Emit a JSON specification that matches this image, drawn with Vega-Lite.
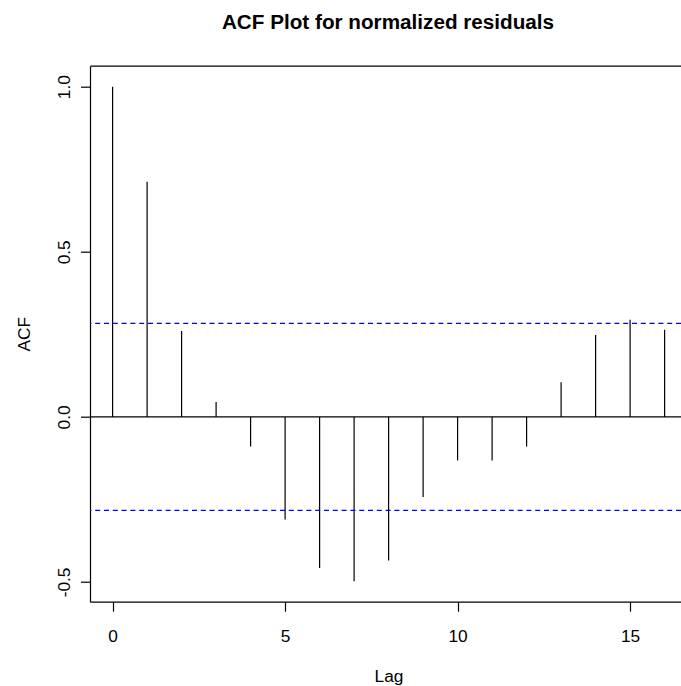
{
  "$schema": "https://vega.github.io/schema/vega-lite/v6.json",
  "width": 591,
  "height": 536,
  "autosize": {"type": "none"},
  "padding": {"left": 90, "top": 65.7, "right": 0, "bottom": 84},
  "background": "white",
  "config": {
    "view": {"stroke": null},
    "font": "Liberation Sans",
    "axis": {"grid": false, "labelFont": "Liberation Sans", "titleFont": "Liberation Sans", "labelColor": "black", "titleColor": "black", "tickColor": "black", "domainColor": "black", "tickWidth": 1.2, "domainWidth": 1.2, "labelFontSize": 17.3, "titleFontSize": 17.3, "titleFontWeight": "normal", "labelFlush": false, "labelOverlap": false}
  },
  "title": {"text": "ACF Plot for normalized residuals", "font": "Liberation Sans", "fontSize": 20.7, "fontWeight": "bold", "color": "black", "anchor": "middle", "baseline": "alphabetic", "offset": 16, "dx": 2.5},
  "datasets": {
    "acf": [
      {"lag": 0, "acf": 1.0},
      {"lag": 1, "acf": 0.712},
      {"lag": 2, "acf": 0.26},
      {"lag": 3, "acf": 0.045},
      {"lag": 4, "acf": -0.09},
      {"lag": 5, "acf": -0.311},
      {"lag": 6, "acf": -0.458},
      {"lag": 7, "acf": -0.498},
      {"lag": 8, "acf": -0.435},
      {"lag": 9, "acf": -0.243},
      {"lag": 10, "acf": -0.132},
      {"lag": 11, "acf": -0.132},
      {"lag": 12, "acf": -0.09},
      {"lag": 13, "acf": 0.105},
      {"lag": 14, "acf": 0.248},
      {"lag": 15, "acf": 0.294},
      {"lag": 16, "acf": 0.264}
    ],
    "ci": [{"ci": 0.283}, {"ci": -0.283}],
    "zero": [{"z": 0}]
  },
  "layer": [
    {
      "data": {"name": "acf"},
      "mark": {"type": "rule", "color": "black", "strokeWidth": 1.2},
      "encoding": {
        "x": {"field": "lag", "type": "quantitative", "scale": {"domain": [-0.655, 16.475], "nice": false, "zero": false},
          "axis": {"orient": "bottom", "values": [0, 5, 10, 15], "format": "d", "domain": true, "tickSize": 9.5, "labelPadding": 30.5, "labelBaseline": "alphabetic", "labelAlign": "center", "title": "Lag", "titleBaseline": "alphabetic", "titleX": 298.5, "titleY": 80, "titleAlign": "center"}},
        "y": {"field": "acf", "type": "quantitative", "scale": {"domain": [-0.5597, 1.0636], "nice": false, "zero": false},
          "axis": {"orient": "left", "values": [-0.5, 0, 0.5, 1], "labelExpr": "datum.value < 0 ? '-' + format(-datum.value, '.1f') : format(datum.value, '.1f')", "domain": true, "tickSize": 9.5, "labelPadding": 11, "labelAngle": 270, "labelAlign": "center", "labelBaseline": "alphabetic", "title": "ACF", "titleAngle": 270, "titleBaseline": "alphabetic", "titleAlign": "center", "titleX": -60.5, "titleY": 268}},
        "y2": {"datum": 0}
      }
    },
    {
      "data": {"name": "zero"},
      "mark": {"type": "rule", "color": "black", "strokeWidth": 1.2},
      "encoding": {
        "y": {"field": "z", "type": "quantitative"}
      }
    },
    {
      "data": {"name": "ci"},
      "mark": {"type": "rule", "color": "#0000FF", "strokeWidth": 1.2, "strokeDash": [5, 3.8]},
      "encoding": {
        "y": {"field": "ci", "type": "quantitative"}
      }
    },
    {
      "data": {"name": "acf"},
      "mark": {"type": "rule", "opacity": 0},
      "encoding": {
        "x": {"field": "lag", "type": "quantitative",
          "axis": {"orient": "top", "labels": false, "ticks": false, "domain": true, "title": null}}
      }
    }
  ],
  "resolve": {"axis": {"x": "independent"}}
}
